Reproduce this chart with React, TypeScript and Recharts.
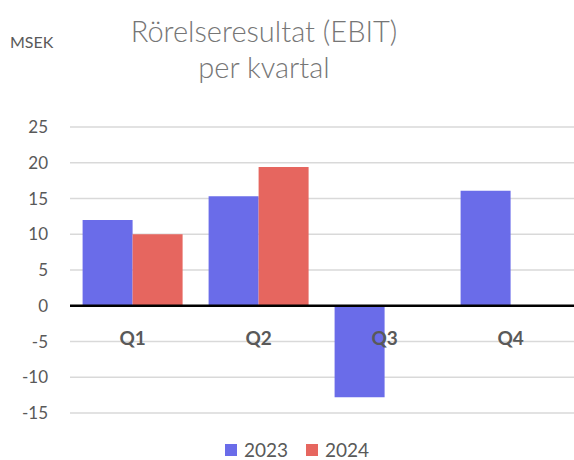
import React from 'react';
import { BarChart, Bar, XAxis, YAxis, CartesianGrid, ReferenceLine, LabelList } from 'recharts';

const quarters = ['Q1', 'Q2', 'Q3', 'Q4'];
const ebit2023 = [12, 15.3, -12.8, 16.1];
const ebit2024: (number | null)[] = [10, 19.4, null, null];
const yTicks = [-15, -10, -5, 0, 5, 10, 15, 20, 25];
const seriesNames = ['2023', '2024'];
const seriesColors = ['#6a6ce9', '#e6665f'];

const W = 574;
const H = 460;
const FONT = 'Lato, "Open Sans", sans-serif';

const data = quarters.map((q, i) => ({ q, a: ebit2023[i], b: ebit2024[i] }));

// kvartalsnamnet ritas strax under nollinjen, ovanpå staplarna
const QuarterLabel = (props: any) => {
  const { x, y, width, height, value, index } = props;
  const v = ebit2023[index];
  const zeroY = v >= 0 ? Math.max(y, y + height) : Math.min(y, y + height);
  return (
    <text
      x={x + width}
      y={zeroY + 32}
      textAnchor="middle"
      dominantBaseline="central"
      fontFamily={FONT}
      fontWeight={700}
      fontSize={19}
      fill="#595959"
    >
      {value}
    </text>
  );
};

const App: React.FC = () => {
  return (
    <div style={{ position: 'absolute', left: 0, top: 0, width: W, height: H, background: '#fff' }}>
      <div
        style={{
          position: 'absolute',
          left: 10,
          top: 32,
          fontFamily: FONT,
          fontSize: 16,
          lineHeight: '20px',
          color: '#595959',
        }}
      >
        MSEK
      </div>
      <div
        style={{
          position: 'absolute',
          left: 64,
          width: 400,
          top: 13,
          textAlign: 'center',
          fontFamily: FONT,
          fontWeight: 300,
          fontSize: 29,
          lineHeight: '36px',
          color: '#767676',
        }}
      >
        Rörelseresultat (EBIT)
        <br />
        per kvartal
      </div>
      <BarChart
        width={W}
        height={H}
        data={data}
        margin={{ top: 127, right: 0, bottom: 47, left: 0 }}
        barCategoryGap="10%"
        barGap={0}
      >
        <CartesianGrid vertical={false} stroke="#d9d9d9" strokeWidth={1.5} />
        <XAxis dataKey="q" hide height={0} />
        <YAxis
          domain={[-15, 25]}
          ticks={yTicks}
          interval={0}
          width={70}
          axisLine={false}
          tickLine={false}
          tickSize={0}
          tickMargin={22}
          tick={{ fontFamily: FONT, fontSize: 17, fill: '#595959' }}
        />
        <Bar dataKey="a" name={seriesNames[0]} fill={seriesColors[0]} isAnimationActive={false}>
          <LabelList dataKey="q" content={<QuarterLabel />} />
        </Bar>
        <Bar dataKey="b" name={seriesNames[1]} fill={seriesColors[1]} isAnimationActive={false} />
        <ReferenceLine y={0} stroke="#000" strokeWidth={2.5} />
      </BarChart>
      <div
        style={{
          position: 'absolute',
          left: 0,
          width: W,
          top: 440,
          display: 'flex',
          justifyContent: 'center',
          paddingLeft: 20,
          boxSizing: 'border-box',
          fontFamily: FONT,
          fontSize: 19,
          lineHeight: '19px',
          color: '#595959',
        }}
      >
        {seriesNames.map((n, i) => (
          <div key={n} style={{ display: 'flex', alignItems: 'center', marginRight: i === 0 ? 18 : 0 }}>
            <span
              style={{
                display: 'inline-block',
                width: 12,
                height: 12,
                background: seriesColors[i],
                marginRight: 7,
              }}
            />
            <span>{n}</span>
          </div>
        ))}
      </div>
    </div>
  );
};

export default App;
